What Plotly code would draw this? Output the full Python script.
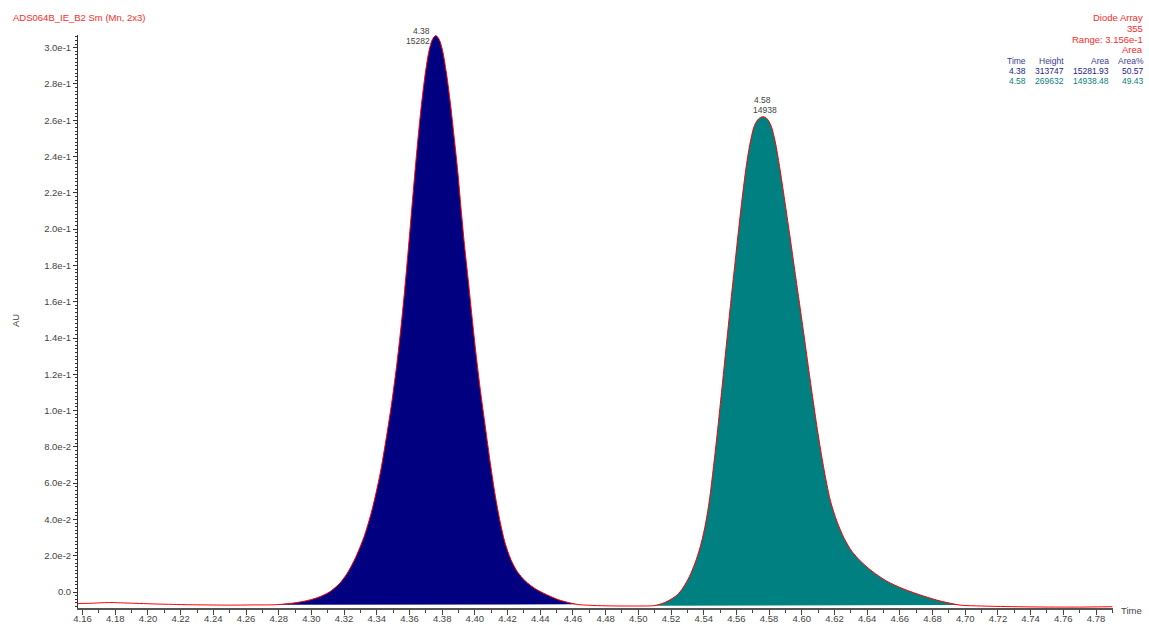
import plotly.graph_objects as go

# ---------------- data ----------------
time_min = [
    4.157, 4.165, 4.172, 4.178, 4.185, 4.195, 4.205, 4.215, 4.225, 4.235, 4.245, 4.255, 4.265, 4.272,
    4.2780, 4.2880, 4.2960, 4.3040, 4.3110, 4.3170, 4.3220, 4.3270, 4.3320, 4.3370, 4.3420, 4.3460,
    4.3494, 4.3523, 4.3548, 4.3570, 4.3590, 4.3609, 4.3628, 4.3648, 4.3670, 4.3697, 4.3720, 4.3740,
    4.3761, 4.3782, 4.3802, 4.3826, 4.3852, 4.3874, 4.3895, 4.3915, 4.3936, 4.3960, 4.3983, 4.4007,
    4.4034, 4.4064, 4.4095, 4.4125, 4.4155, 4.4185, 4.4220, 4.4260, 4.4310, 4.4370, 4.4440, 4.4520,
    4.4625,
    4.4700, 4.4800, 4.4900, 4.5000,
    4.5095, 4.5150, 4.5200, 4.5245, 4.5285, 4.5320, 4.5355, 4.5385, 4.5412, 4.5435, 4.5460, 4.5483,
    4.5504, 4.5525, 4.5546, 4.5567, 4.5589, 4.5611, 4.5634, 4.5660, 4.5685, 4.5710, 4.5736, 4.5762,
    4.5788, 4.5812, 4.5838, 4.5864, 4.5895, 4.5925, 4.5954, 4.5983, 4.6012, 4.6040, 4.6069, 4.6099,
    4.6133, 4.6174, 4.6215, 4.6260, 4.6306, 4.6360, 4.6430, 4.6520, 4.6620, 4.6744, 4.6850, 4.6968,
    4.7100, 4.7250, 4.7400, 4.7550, 4.7700, 4.7800, 4.7900,
]
absorbance_au = [
    -0.0063, -0.0062, -0.0059, -0.0058, -0.0060, -0.0063, -0.0066, -0.0068, -0.0070, -0.0071, -0.0072, -0.0072, -0.0071, -0.0071,
    -0.0070, -0.0062, -0.0050, -0.0030, 0.0000, 0.0045, 0.0105, 0.0190, 0.0300, 0.0450, 0.0650, 0.0860,
    0.1060, 0.1260, 0.1460, 0.1660, 0.1860, 0.2060, 0.2260, 0.2460, 0.2660, 0.2860, 0.2985, 0.3045,
    0.3067, 0.3045, 0.2985, 0.2860, 0.2680, 0.2500, 0.2321, 0.2118, 0.1916, 0.1714, 0.1513, 0.1312,
    0.1110, 0.0910, 0.0707, 0.0530, 0.0385, 0.0270, 0.0180, 0.0112, 0.0060, 0.0018, -0.0015, -0.0045,
    -0.0068,
    -0.0073, -0.0076, -0.0077, -0.0077,
    -0.0075, -0.0062, -0.0040, -0.0010, 0.0040, 0.0100, 0.0180, 0.0270, 0.0380, 0.0507, 0.0691, 0.0875,
    0.1058, 0.1242, 0.1426, 0.1610, 0.1793, 0.1977, 0.2161, 0.2345, 0.2480, 0.2570, 0.2608, 0.2620,
    0.2608, 0.2570, 0.2480, 0.2345, 0.2161, 0.1977, 0.1793, 0.1610, 0.1426, 0.1242, 0.1058, 0.0875,
    0.0691, 0.0507, 0.0390, 0.0295, 0.0225, 0.0170, 0.0115, 0.0060, 0.0018, -0.0022, -0.0050, -0.0072,
    -0.0077, -0.0080, -0.0082, -0.0083, -0.0083, -0.0082, -0.0081,
]

peak_rt = [4.3761, 4.5762]
peak_rt_label = ["4.38", "4.58"]
peak_area_label = ["15282", "14938"]
peak_start = [4.2780, 4.5095]
peak_end = [4.4625, 4.6968]
peak_fill = ["#000080", "#008080"]

x_tick_vals = [round(4.16 + 0.02 * i, 2) for i in range(32)]
x_tick_text = ["%.2f" % v for v in x_tick_vals]
y_tick_vals = [round(0.02 * i, 2) for i in range(16)]
y_tick_text = ["0.0"] + ["%.1fe-2" % (v * 100) for v in y_tick_vals[1:5]] + ["%.1fe-1" % (v * 10) for v in y_tick_vals[5:]]

table_header = ["Time", "Height", "Area", "Area%"]
table_rows = [
    ["4.38", "313747", "15281.93", "50.57"],
    ["4.58", "269632", "14938.48", "49.43"],
]
row_colors = ["#23238a", "#0a7f7f"]

# ---------------- figure ----------------
FONT = "Liberation Sans, Arial, sans-serif"
fig = go.Figure()

for i in range(2):
    px_ = [t for t in time_min if peak_start[i] <= t <= peak_end[i]]
    py_ = [a for t, a in zip(time_min, absorbance_au) if peak_start[i] <= t <= peak_end[i]]
    fig.add_trace(go.Scatter(x=px_, y=py_, mode="lines", fill="toself",
                             fillcolor=peak_fill[i], line=dict(width=0, shape="spline", smoothing=0.8),
                             hoverinfo="skip"))

fig.add_trace(go.Scatter(x=time_min, y=absorbance_au, mode="lines",
                         line=dict(color="#ff0000", width=1, shape="spline", smoothing=0.8)))

L, R, T, B = 78, 1113, 35, 608


def pxx(x):
    return (x - L) / (R - L)


def pyy(y):
    return (B - y) / (B - T)


ann = []


def text(x, y, s, color="#444444", size=9.5, xanchor="left", xref="paper", xshift=0, angle=0):
    ann.append(dict(x=x, y=pyy(y), xref=xref, yref="paper", text=s, showarrow=False,
                    xanchor=xanchor, yanchor="middle", xshift=xshift, textangle=angle,
                    font=dict(family=FONT, size=size, color=color), borderpad=0))


text(pxx(12), 17, "ADS064B_IE_B2 Sm (Mn, 2x3)", color="#ff2a2a", size=9.5)
for s, yy in zip(["Diode Array", "355", "Range: 3.156e-1", "Area"], [17, 28.5, 39.5, 50]):
    text(pxx(1144), yy, s, color="#ff2a2a", size=9.5, xanchor="right")

col_right = [1027, 1065, 1110, 1145]
for c, h in enumerate(table_header):
    text(pxx(col_right[c]), 60.5, h, color="#3b3b8e", size=8.5, xanchor="right")
for r, row in enumerate(table_rows):
    for c, v in enumerate(row):
        text(pxx(col_right[c]), 71 + 10.3 * r, v, color=row_colors[r], size=8.5, xanchor="right")

# peak labels
text(peak_rt[0], 31.5, peak_rt_label[0], size=8.5, xanchor="right", xref="x", xshift=-5)
text(peak_rt[0], 40.5, peak_area_label[0], size=8.5, xanchor="right", xref="x", xshift=-5)
text(peak_rt[1], 100, peak_rt_label[1], size=8.5, xanchor="center", xref="x")
text(peak_rt[1], 110, peak_area_label[1], size=8.5, xanchor="center", xref="x", xshift=2)

text(pxx(1120), 610, "Time", size=9.5)
text(pxx(15), 321, "AU", size=9.5, xanchor="center", angle=-90)

fig.update_layout(
    width=1149, height=625,
    autosize=False,
    margin=dict(l=L, r=1149 - R, t=T, b=625 - B, pad=0),
    plot_bgcolor="white", paper_bgcolor="white",
    showlegend=False,
    font=dict(family=FONT, size=9.5, color="#444444"),
    annotations=ann,
    xaxis=dict(range=[4.1572, 4.7904], tickmode="array", tickvals=x_tick_vals, ticktext=x_tick_text,
               ticks="outside", ticklen=5, tickwidth=1, tickcolor="#444444", automargin=False,
               ticklabelstandoff=-4,
               showline=True, linecolor="#555555", linewidth=1.5, showgrid=False, zeroline=False,
               tickfont=dict(family=FONT, size=9.5, color="#444444"),
               minor=dict(tickmode="linear", tick0=4.16, dtick=0.01, ticklen=3, tickcolor="#444444",
                          ticks="outside", showgrid=False)),
    yaxis=dict(range=[-0.0088, 0.307], tickmode="array", tickvals=y_tick_vals, ticktext=y_tick_text,
               ticks="outside", ticklen=4, tickwidth=1, tickcolor="#333333", automargin=False,
               showline=True, linecolor="#333333", linewidth=1, showgrid=False, zeroline=False,
               tickfont=dict(family=FONT, size=9.5, color="#444444"),
               minor=dict(tickmode="linear", tick0=0, dtick=0.002, ticklen=2, tickcolor="#333333",
                          ticks="outside", showgrid=False)),
)

fig.write_html("out.html", config={"displayModeBar": False},
               post_script="document.body.style.margin='0px';document.body.style.overflow='hidden';")
